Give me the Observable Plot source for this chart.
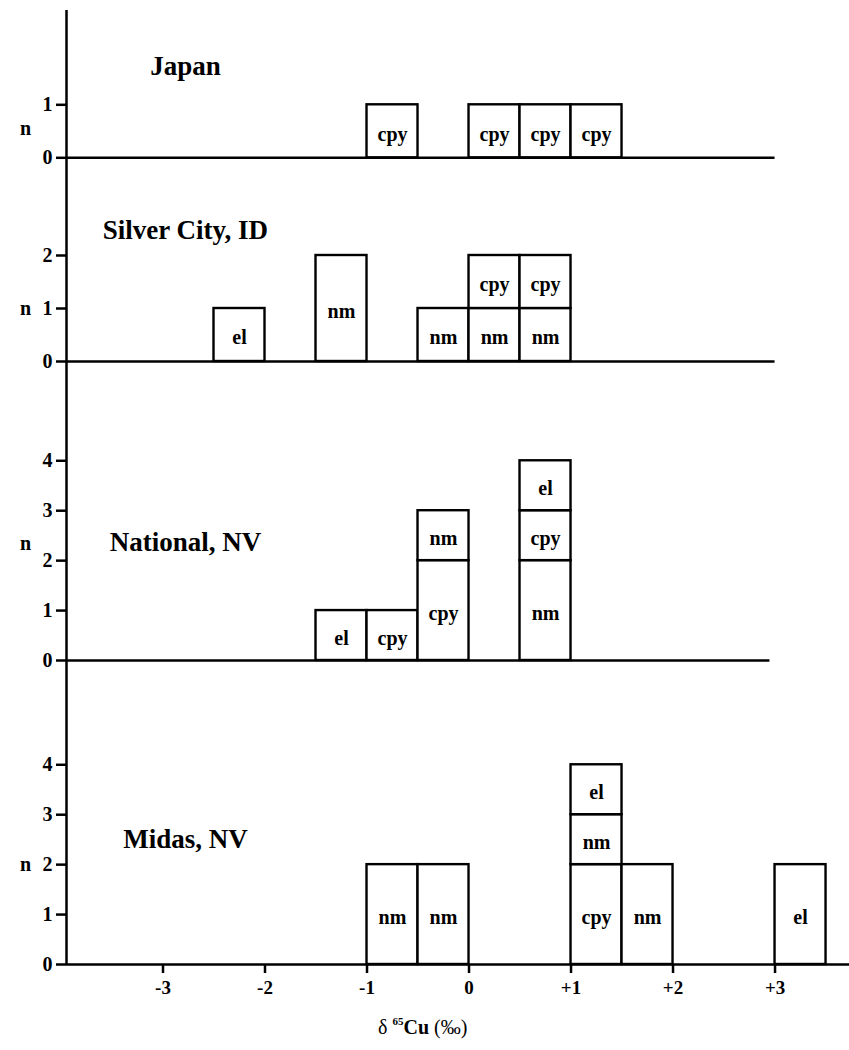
<!DOCTYPE html>
<html>
<head>
<meta charset="utf-8">
<script src="https://cdn.jsdelivr.net/npm/d3@7"></script>
<script src="https://cdn.jsdelivr.net/npm/@observablehq/plot@0.6"></script>
<style>
  html, body { margin: 0; padding: 0; background: white; overflow: hidden; }
  #chart { width: 849px; }
  #chart svg { display: block; }
  #xlabel {
    height: 45px; line-height: 45px; padding-left: 378px;
    font-family: "Liberation Serif", serif; font-size: 20px; white-space: nowrap; color: black;
  }
  #xlabel sup { font-size: 11px; vertical-align: 0; position: relative; top: -9px; font-weight: bold; }
</style>
</head>
<body>
<div id="chart"></div>
<div id="xlabel"><span>δ </span><sup>65</sup><b>Cu</b><span> (‰)</span></div>
<script>
// δ65Cu histograms (bins 0.5 ‰ wide), stacked by mineral within each bin
const siteNames = ["Japan", "Silver City, ID", "National, NV", "Midas, NV"];
const binWidth = 0.5;

// lower edge of bin, mineral, count (stacked bottom to top in listed order)
const japanBins = [-1, 0, 0.5, 1];
const japanMinerals = ["cpy", "cpy", "cpy", "cpy"];
const japanCounts = [1, 1, 1, 1];

const silverBins = [-2.5, -1.5, -0.5, 0, 0, 0.5, 0.5];
const silverMinerals = ["el", "nm", "nm", "nm", "cpy", "nm", "cpy"];
const silverCounts = [1, 2, 1, 1, 1, 1, 1];

const nationalBins = [-1.5, -1, -0.5, -0.5, 0.5, 0.5, 0.5];
const nationalMinerals = ["el", "cpy", "cpy", "nm", "nm", "cpy", "el"];
const nationalCounts = [1, 1, 2, 1, 2, 1, 1];

const midasBins = [-1, -0.5, 1, 1, 1, 1.5, 3];
const midasMinerals = ["nm", "nm", "cpy", "nm", "el", "nm", "el"];
const midasCounts = [2, 2, 2, 1, 1, 2, 2];

const nTicks = [[0, 1], [0, 1, 2], [0, 1, 2, 3, 4], [0, 1, 2, 3, 4]];
const xTicks = [-3, -2, -1, 0, 1, 2, 3];

// layout of the four stacked panels
const xMin = -3.946, xMax = 3.73;
const baselineEnd = [3, 3, 2.95, xMax];
const panelLayout = [
  {height: 180, marginTop: 10, marginBottom: 0, zero: 157.3, unit: 53},
  {height: 220, marginTop: 0, marginBottom: 0, zero: 181, unit: 53},
  {height: 300, marginTop: 0, marginBottom: 0, zero: 260, unit: 49.93},
  {height: 305, marginTop: 0, marginBottom: 41, zero: 264, unit: 49.93}
];
const titleX = -2.78;
const titleY = [1.73, 2.48, 2.36, 2.5];
const nLabelY = [0.55, 1, 2.34, 2];

function stackRows(bins, minerals, counts) {
  const top = new Map();
  return bins.map((b, i) => {
    const y1 = top.get(b) ?? 0;
    const y2 = y1 + counts[i];
    top.set(b, y2);
    return {x1: b, x2: b + binWidth, y1, y2, mineral: minerals[i]};
  });
}

const sites = [
  stackRows(japanBins, japanMinerals, japanCounts),
  stackRows(silverBins, silverMinerals, silverCounts),
  stackRows(nationalBins, nationalMinerals, nationalCounts),
  stackRows(midasBins, midasMinerals, midasCounts)
];

const signed = d => d > 0 ? `+${d}` : d < 0 ? `-${-d}` : "0";
const chart = document.getElementById("chart");

sites.forEach((rows, i) => {
  const L = panelLayout[i];
  const last = i === sites.length - 1;
  const yTop = (L.zero - L.marginTop) / L.unit;
  const yBottom = (L.zero - (L.height - L.marginBottom)) / L.unit;
  const plot = Plot.plot({
    width: 849,
    height: L.height,
    marginLeft: 66,
    marginRight: 0,
    marginTop: L.marginTop,
    marginBottom: L.marginBottom,
    style: {fontFamily: "Liberation Serif, serif", fontWeight: "bold", color: "black", background: "white", overflow: "visible"},
    x: {domain: [xMin, xMax], axis: last ? undefined : null},
    y: {domain: [yBottom, yTop]},
    marks: [
      Plot.ruleX([xMin], {stroke: "black", strokeWidth: 2.5}),
      Plot.ruleY([0], {x1: xMin, x2: baselineEnd[i], stroke: "black", strokeWidth: 2.4}),
      Plot.rect(rows, {x1: "x1", x2: "x2", y1: "y1", y2: "y2", fill: "white", stroke: "black", strokeWidth: 2.4}),
      Plot.text(rows, {x: d => (d.x1 + d.x2) / 2, y: d => (d.y1 + d.y2) / 2, text: "mineral", fontSize: 20, dy: 3}),
      Plot.axisY({ticks: nTicks[i], tickSize: 10, tickPadding: 4, tickFormat: d3.format("d"), fontSize: 20, strokeWidth: 2.5, label: null}),
      Plot.text([siteNames[i]], {x: titleX, y: titleY[i], text: d => d, fontSize: 27}),
      Plot.text(["n"], {frameAnchor: "left", dx: -46.5, y: nLabelY[i], text: d => d, fontSize: 20}),
      last ? Plot.axisX({ticks: xTicks, tickSize: 9, tickPadding: 7, tickFormat: signed, fontSize: 19, strokeWidth: 2.5, label: null}) : null
    ]
  });
  chart.appendChild(plot);
});
</script>
</body>
</html>
